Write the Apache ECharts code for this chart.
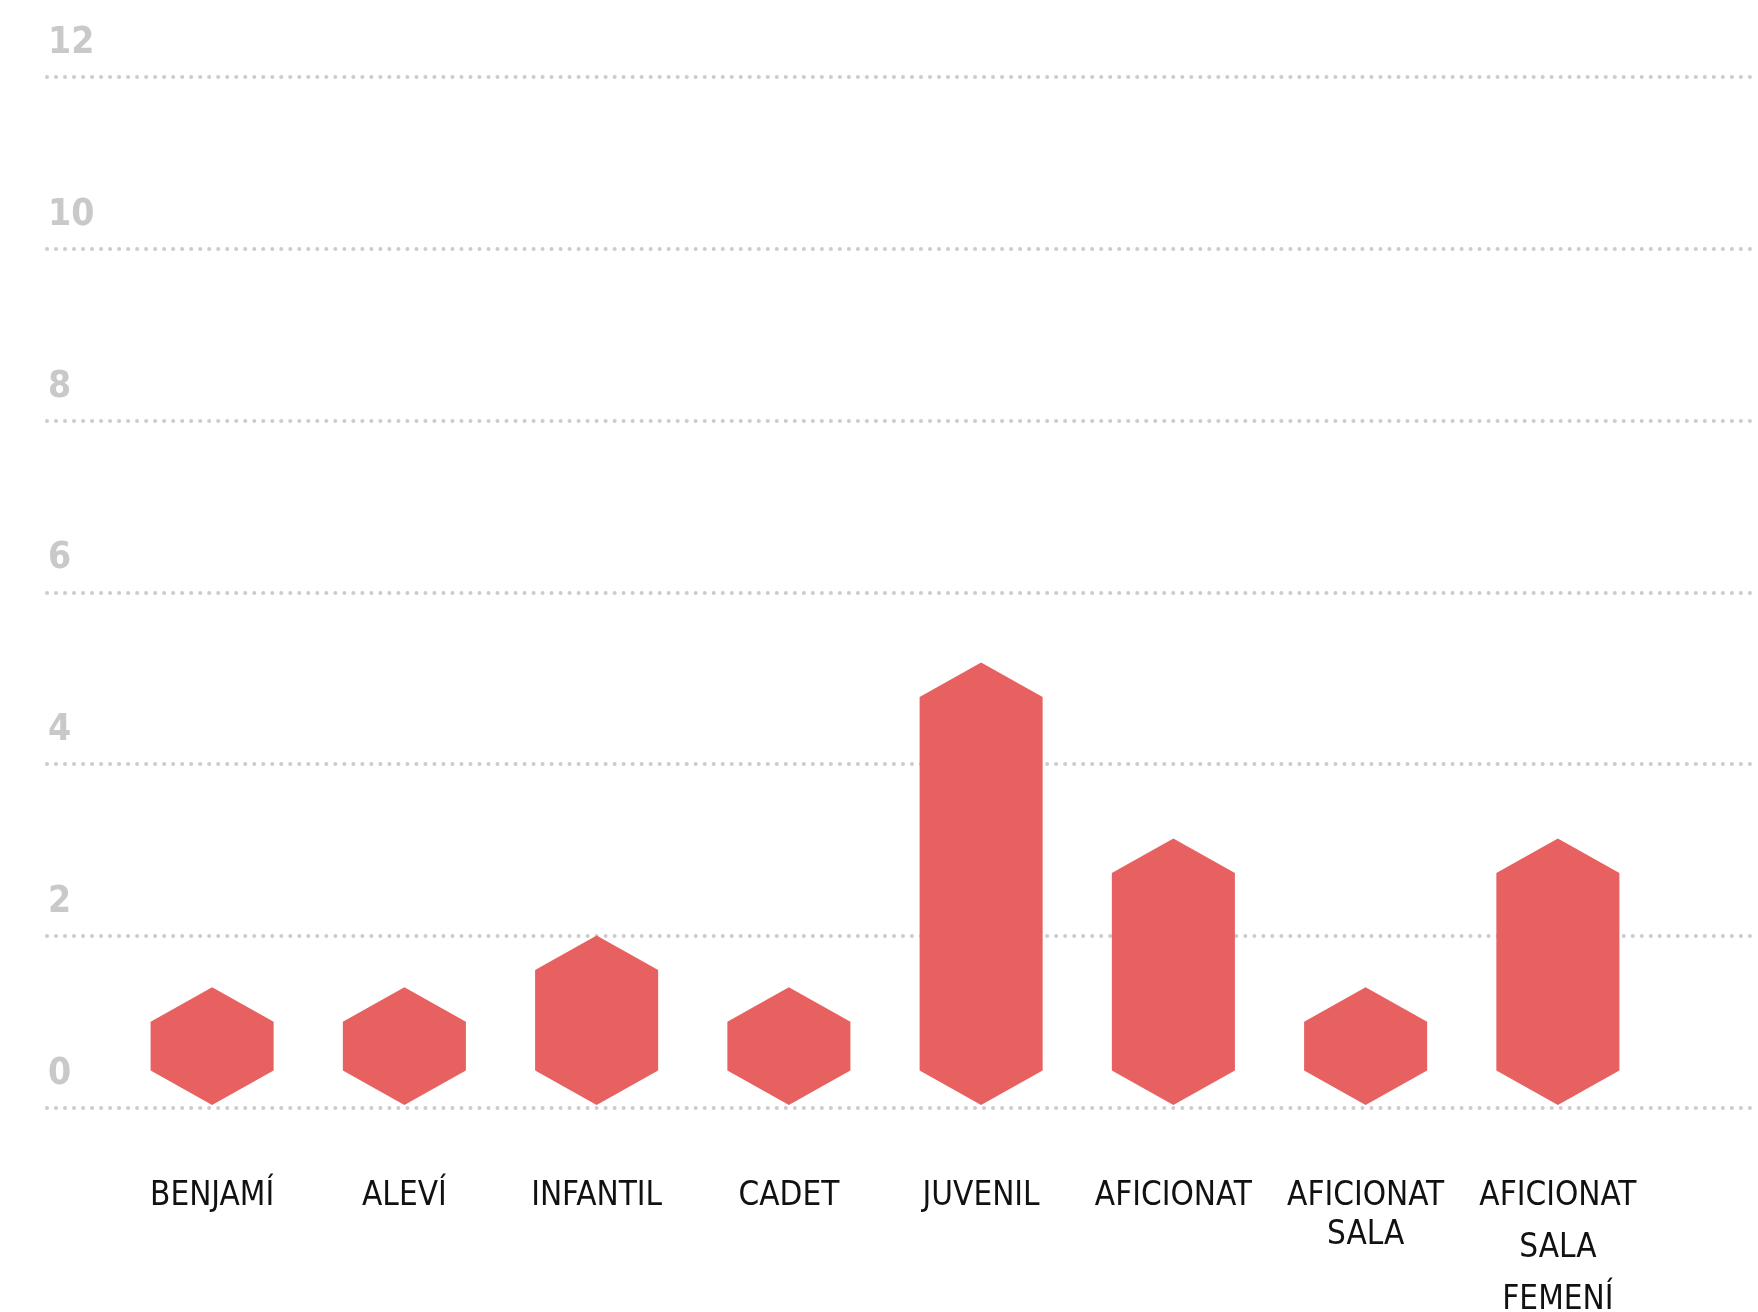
<!DOCTYPE html>
<html>
<head>
<meta charset="utf-8">
<script src="https://cdn.jsdelivr.net/npm/echarts@6/dist/echarts.min.js"></script>
<style>
html,body{margin:0;padding:0;background:#fff;}
#c{width:1758px;height:1312px;}
</style>
</head>
<body>
<div id="c"></div>
<script>
const categories = ['BENJAMÍ', 'ALEVÍ', 'INFANTIL', 'CADET', 'JUVENIL', 'AFICIONAT', 'AFICIONAT\nSALA', 'AFICIONAT\nSALA\nFEMENÍ'];
const values = [1, 1, 1.6, 1, 4.78, 2.73, 1, 2.73];
const yTicks = { min: 0, max: 12, interval: 2 };

const chart = echarts.init(document.getElementById('c'));

const catData = categories.map((c, i) => i === categories.length - 1
  ? { value: c, textStyle: { lineHeight: 52, padding: [-6.5, 0, 0, 0] } }
  : c);

chart.setOption({
  backgroundColor: '#ffffff',
  animation: false,
  grid: [
    { left: 47, right: 0, top: 77, bottom: 204.5, containLabel: false, outerBoundsMode: 'none' },
    { left: 116, right: 104, top: 77, bottom: 204.5, containLabel: false, outerBoundsMode: 'none' }
  ],
  xAxis: [
    { gridIndex: 0, type: 'value', show: false, min: 0, max: 1 },
    {
      gridIndex: 1, type: 'category', data: catData,
      axisLine: { show: false }, axisTick: { show: false },
      axisLabel: {
        interval: 0, margin: 69, verticalAlign: 'top',
        fontFamily: '"Liberation Sans Narrow", "DejaVu Sans Condensed", sans-serif',
        fontSize: 33, lineHeight: 39, color: '#111111'
      }
    }
  ],
  yAxis: [
    {
      gridIndex: 0, type: 'value', min: yTicks.min, max: yTicks.max, interval: yTicks.interval,
      axisLine: { show: false }, axisTick: { show: false },
      axisLabel: {
        inside: true, margin: 1, align: 'left', verticalAlign: 'bottom',
        lineHeight: 67,
        fontFamily: '"Liberation Sans Narrow", "DejaVu Sans Condensed", sans-serif',
        fontWeight: 'bold', fontSize: 37, color: '#c9c9c9'
      },
      splitLine: {
        show: true,
        lineStyle: { color: '#cccccc', width: 4, type: [0.01, 9], cap: 'round' }
      }
    },
    {
      gridIndex: 1, type: 'value', min: yTicks.min, max: yTicks.max, interval: yTicks.interval,
      show: false, splitLine: { show: false }
    }
  ],
  series: [{
    type: 'custom',
    xAxisIndex: 1, yAxisIndex: 1,
    data: values.map((v, i) => [i, v]),
    renderItem: function (params, api) {
      const idx = api.value(0);
      const v = api.value(1);
      const top = api.coord([idx, v]);
      const base = api.coord([idx, 0]);
      const bw = api.size([1, 0])[0];
      const half = bw * 0.64 / 2;
      const cap = 34.5;
      const cx = top[0];
      const by = base[1] - 2.5;
      const ty = top[1];
      return {
        type: 'polygon',
        shape: {
          points: [
            [cx, by], [cx + half, by - cap], [cx + half, ty],
            [cx, ty - cap], [cx - half, ty], [cx - half, by - cap]
          ]
        },
        style: { fill: '#e86161' }
      };
    }
  }]
});
</script>
</body>
</html>
